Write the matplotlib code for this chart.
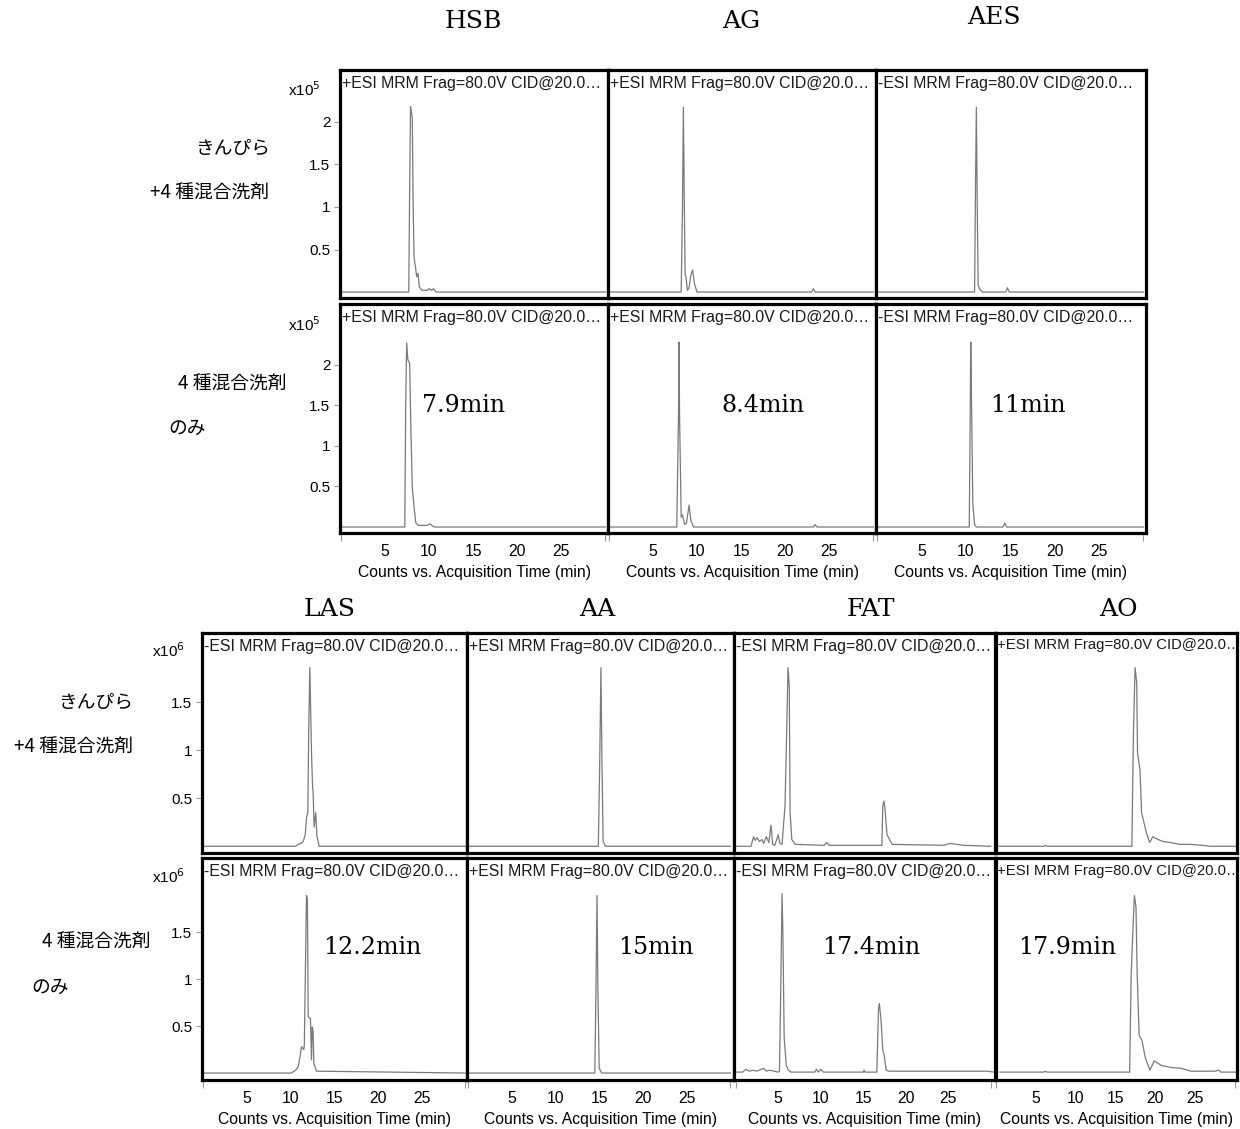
import matplotlib
matplotlib.use("Agg")
import matplotlib.pyplot as plt

# ---------------------------------------------------------------------------
# Data: MRM chromatograms (retention time in min, counts in units of the
# row multiplier). Row "a" = きんぴら + 4種混合洗剤, row "b" = 4種混合洗剤のみ.
# ---------------------------------------------------------------------------
top_compounds = ["HSB", "AG", "AES"]
top_polarity = ["+", "+", "-"]
top_rt_labels = ["7.9min", "8.4min", "11min"]

bottom_compounds = ["LAS", "AA", "FAT", "AO"]
bottom_polarity = ["-", "+", "-", "+"]
bottom_rt_labels = ["12.2min", "15min", "17.4min", "17.9min"]

top_yticks = [0.5, 1, 1.5, 2]
top_ytick_labels = ["0.5", "1", "1.5", "2"]
bottom_yticks = [0.5, 1, 1.5]
bottom_ytick_labels = ["0.5", "1", "1.5"]
xticks = [5, 10, 15, 20, 25]
xtick_labels = ["5", "10", "15", "20", "25"]

# HSB (x10^5)
hsb_a_t = [0, 7.7, 7.8, 7.9, 8.1, 8.2, 8.3, 8.45, 8.6, 8.75, 8.9, 9.2, 9.8, 10.0, 10.3, 10.5, 10.8, 30]
hsb_a_y = [0, 0, 1.2, 2.18, 2.05, 1.0, 0.41, 0.3, 0.18, 0.22, 0.06, 0.02, 0.02, 0.04, 0.02, 0.04, 0.0, 0]
hsb_b_t = [0, 7.25, 7.35, 7.46, 7.6, 7.8, 7.95, 8.1, 8.3, 8.5, 8.8, 9.8, 10.1, 10.3, 10.6, 30]
hsb_b_y = [0, 0, 1.5, 2.27, 2.06, 2.02, 1.16, 0.49, 0.25, 0.05, 0.02, 0.02, 0.04, 0.02, 0.0, 0]

# AG (x10^5)
ag_a_t = [0, 8.2, 8.35, 8.45, 8.55, 8.65, 8.75, 8.9, 9.1, 9.3, 9.5, 9.7, 10.0, 23.0, 23.2, 23.4, 30]
ag_a_y = [0, 0, 1.0, 2.17, 1.1, 0.2, 0.18, 0.02, 0.05, 0.2, 0.26, 0.1, 0.0, 0, 0.04, 0, 0]
ag_b_t = [0, 7.7, 7.9, 7.95, 8.02, 8.2, 8.35, 8.6, 8.8, 9.1, 9.3, 9.6, 23.2, 23.4, 23.6, 30]
ag_b_y = [0, 0, 1.4, 2.28, 1.35, 0.12, 0.15, 0.03, 0.05, 0.27, 0.08, 0.0, 0, 0.03, 0, 0]

# AES (x10^5)
aes_a_t = [0, 11.0, 11.1, 11.2, 11.3, 11.4, 11.6, 11.9, 14.5, 14.7, 14.9, 30]
aes_a_y = [0, 0, 1.2, 2.17, 1.0, 0.08, 0.03, 0.0, 0, 0.05, 0, 0]
aes_b_t = [0, 10.4, 10.5, 10.57, 10.65, 10.8, 11.0, 11.2, 14.2, 14.4, 14.6, 30]
aes_b_y = [0, 0, 1.3, 2.28, 1.6, 0.3, 0.03, 0.0, 0, 0.05, 0, 0]

# LAS (x10^6)
las_a_t = [0, 10.6, 10.9, 11.2, 11.47, 11.7, 11.85, 12.0, 12.1, 12.23, 12.42, 12.55, 12.6, 12.72, 12.9, 13.05, 13.3, 30]
las_a_y = [0, 0, 0.02, 0.03, 0.05, 0.12, 0.3, 0.35, 1.2, 1.86, 0.97, 0.6, 0.58, 0.2, 0.35, 0.1, 0.0, 0]
las_b_t = [0, 10.1, 10.6, 10.9, 11.1, 11.28, 11.54, 11.6, 11.8, 11.85, 11.95, 12.04, 12.3, 12.42, 12.5, 12.6, 12.69, 13.0, 30]
las_b_y = [0, 0, 0.03, 0.07, 0.17, 0.28, 0.25, 0.3, 1.6, 1.89, 1.85, 0.6, 0.58, 0.14, 0.49, 0.45, 0.1, 0.02, 0]

# AA (x10^6)
aa_a_t = [0, 14.9, 15.05, 15.2, 15.3, 15.45, 15.7, 30]
aa_a_y = [0, 0, 0.8, 1.86, 1.0, 0.05, 0.0, 0]
aa_b_t = [0, 14.5, 14.62, 14.75, 14.85, 15.0, 15.3, 30]
aa_b_y = [0, 0, 0.8, 1.89, 0.9, 0.05, 0.0, 0]

# FAT (x10^6)
fat_a_t = [0, 1.8, 2.1, 2.3, 2.5, 2.8, 3.1, 3.3, 3.6, 3.9, 4.15, 4.35, 4.6, 5.0, 5.2, 5.45, 5.8, 6.0,
           6.15, 6.3, 6.4, 6.6, 7.0, 10.4, 10.7, 11.0, 17.2, 17.3, 17.45, 17.6, 17.8, 18.1, 18.4,
           24.5, 25.2, 26.0, 26.8, 30]
fat_a_y = [0, 0, 0.1, 0.06, 0.09, 0.05, 0.07, 0.03, 0.1, 0.04, 0.22, 0.02, 0.01, 0.12, 0.03, 0.02, 0.42, 1.2,
           1.86, 1.67, 0.35, 0.07, 0.02, 0.01, 0.04, 0.01, 0.01, 0.42, 0.47, 0.35, 0.12, 0.07, 0.02,
           0.01, 0.03, 0.02, 0.01, 0.0]
fat_b_t = [0, 0.8, 1.2, 1.6, 2.0, 2.5, 3.0, 3.3, 3.6, 4.0, 4.5, 5.0, 5.15, 5.3, 5.45, 5.55, 5.7, 5.95,
           6.2, 6.5, 9.3, 9.5, 9.7, 10.0, 10.3, 15.0, 15.1, 15.2, 16.6, 16.8, 16.9, 17.1, 17.3, 17.45,
           17.7, 18.0, 20.0, 22.0, 24.0, 26.0, 28.0, 29.5, 30.5]
fat_b_y = [0.01, 0.01, 0.04, 0.02, 0.03, 0.02, 0.04, 0.05, 0.02, 0.03, 0.02, 0.01, 0.02, 0.9, 1.91, 1.5, 0.38, 0.08,
           0.03, 0.01, 0.01, 0.04, 0.01, 0.04, 0.01, 0.01, 0.03, 0.01, 0.01, 0.69, 0.74, 0.56, 0.24, 0.2,
           0.03, 0.02, 0.02, 0.02, 0.02, 0.02, 0.02, 0.02, 0.01]

# AO (x10^6)
ao_a_t = [0.5, 6.4, 6.6, 6.8, 17.3, 17.5, 17.7, 17.9, 18.0, 18.3, 18.5, 18.7, 19.1, 19.5, 19.9, 20.3,
          21.1, 22.0, 23.2, 24.5, 26.0, 27.0, 30.3]
ao_a_y = [0.0, 0.0, 0.01, 0.0, 0.0, 1.21, 1.86, 1.7, 0.97, 0.8, 0.35, 0.28, 0.14, 0.04, 0.1, 0.08,
          0.05, 0.04, 0.02, 0.02, 0.01, 0.0, 0.0]
ao_b_t = [0.5, 6.0, 6.2, 6.4, 16.8, 17.0, 17.2, 17.4, 17.6, 17.75, 18.0, 18.35, 18.75, 19.35, 19.9, 20.8,
          22.0, 23.3, 24.5, 27.5, 28.0, 28.3, 30.3]
ao_b_y = [0.01, 0.01, 0.02, 0.01, 0.01, 1.06, 1.49, 1.89, 1.77, 1.06, 0.4, 0.35, 0.17, 0.03, 0.13, 0.08,
          0.06, 0.05, 0.02, 0.02, 0.03, 0.01, 0.01]

top_traces = [((hsb_a_t, hsb_a_y), (hsb_b_t, hsb_b_y)),
              ((ag_a_t, ag_a_y), (ag_b_t, ag_b_y)),
              ((aes_a_t, aes_a_y), (aes_b_t, aes_b_y))]
bottom_traces = [((las_a_t, las_a_y), (las_b_t, las_b_y)),
                 ((aa_a_t, aa_a_y), (aa_b_t, aa_b_y)),
                 ((fat_a_t, fat_a_y), (fat_b_t, fat_b_y)),
                 ((ao_a_t, ao_a_y), (ao_b_t, ao_b_y))]

# ---------------------------------------------------------------------------
W, H = 1240, 1129
fig = plt.figure(figsize=(W / 100, H / 100), dpi=100)
fig.patch.set_facecolor("white")

SANS = ["Liberation Sans", "DejaVu Sans"]
SERIF = ["DejaVu Serif"]
CJK = ["Noto Sans CJK JP", "DejaVu Sans"]
TRACE = "#7a7a7a"


def rect(x0, y0, x1, y1):
    return [x0 / W, 1 - y1 / H, (x1 - x0) / W, (y1 - y0) / H]


def ftext(x, y, s, **kw):
    fig.text(x / W, 1 - y / H, s, **kw)


def panel(box, xlim, ylim, trace, polarity, left, bottom, yticks, ylabels):
    ax = fig.add_axes(rect(*box))
    ax.plot(trace[0], trace[1], color=TRACE, lw=0.9)
    ax.set_xlim(*xlim)
    ax.set_ylim(*ylim)
    for s in ax.spines.values():
        s.set_linewidth(2.3)
        s.set_color("black")
    # header size follows the panel width so it always fits inside the frame
    width_px = box[2] - box[0]
    header_fs = min(11.4, 11.4 * (width_px - 6) / 250.0)
    ax.text(0.006, 0.975, f"{polarity}ESI MRM Frag=80.0V CID@20.0…", transform=ax.transAxes,
            ha="left", va="top", fontsize=header_fs, family=SANS, color="#1a1a1a")
    if left:
        ax.set_yticks(yticks)
        ax.set_yticklabels(ylabels, family=SANS, fontsize=11)
        ax.tick_params(axis="y", length=4, width=0.8, color="#999999", pad=3)
    else:
        ax.set_yticks([])
    if bottom:
        ax.set_xticks(xticks)
        ax.set_xticklabels(xtick_labels, family=SANS, fontsize=11.3)
        ax.set_xticks([0, 30], minor=True)
        ax.tick_params(axis="x", which="major", length=0, pad=8)
        ax.tick_params(axis="x", which="minor", length=6, width=0.8, color="#999999")
        ax.set_xlabel("Counts vs. Acquisition Time (min)", family=SANS, fontsize=11.3, labelpad=4)
    else:
        ax.set_xticks([])
    return ax


# --- upper block -----------------------------------------------------------
top_cols = [(340, 608), (608, 876), (876, 1146)]
top_rows = [(70, 298), (304, 533)]
top_ylims = [(-0.07, 2.61), (-0.074, 2.75)]
top_xlims = [(-0.1, 30.3), (-0.1, 30.3), (-0.1, 30.3)]

for c, (x0, x1) in enumerate(top_cols):
    for r, (y0, y1) in enumerate(top_rows):
        panel((x0, y0, x1, y1), top_xlims[c], top_ylims[r], top_traces[c][r],
              top_polarity[c], c == 0, r == 1, top_yticks, top_ytick_labels)

for name, xc, yc in zip(top_compounds, [473, 741, 994], [22, 22, 18]):
    ftext(xc, yc, name, ha="center", va="center", fontsize=18, family=SERIF)
for lab, xc in zip(top_rt_labels, [464, 763, 1028]):
    ftext(xc, 405, lab, ha="center", va="center", fontsize=17, family=SERIF)
for yc in [90, 325]:
    ftext(304, yc, r"x10$^{5}$", ha="center", va="center", fontsize=11, family=SANS)

ftext(233, 148, "きんぴら", ha="center", va="center", fontsize=13.5, family=CJK)
ftext(209, 193, "+4 種混合洗剤", ha="center", va="center", fontsize=13.5, family=CJK)
ftext(232, 384, "4 種混合洗剤", ha="center", va="center", fontsize=13.5, family=CJK)
ftext(187, 428, "のみ", ha="center", va="center", fontsize=13.5, family=CJK)

# --- lower block -----------------------------------------------------------
bot_cols = [(202, 467), (467, 734), (734, 995), (996, 1237)]
bot_rows = [(633, 853), (858, 1080)]
bot_ylims = [(-0.07, 2.22), (-0.074, 2.29)]
bot_xlims = [(-0.1, 30.2), (-0.1, 30.4), (-0.2, 30.5), (0.5, 30.3)]

for c, (x0, x1) in enumerate(bot_cols):
    for r, (y0, y1) in enumerate(bot_rows):
        panel((x0, y0, x1, y1), bot_xlims[c], bot_ylims[r], bottom_traces[c][r],
              bottom_polarity[c], c == 0, r == 1, bottom_yticks, bottom_ytick_labels)

for name, xc in zip(bottom_compounds, [330, 597, 871, 1118]):
    ftext(xc, 609, name, ha="center", va="center", fontsize=18, family=SERIF)
for lab, xc in zip(bottom_rt_labels, [372, 656, 871, 1067]):
    ftext(xc, 948, lab, ha="center", va="center", fontsize=17, family=SERIF)
for yc in [651, 877]:
    ftext(168, yc, r"x10$^{6}$", ha="center", va="center", fontsize=11, family=SANS)

ftext(96, 702, "きんぴら", ha="center", va="center", fontsize=13.5, family=CJK)
ftext(73, 747, "+4 種混合洗剤", ha="center", va="center", fontsize=13.5, family=CJK)
ftext(96, 942, "4 種混合洗剤", ha="center", va="center", fontsize=13.5, family=CJK)
ftext(50, 987, "のみ", ha="center", va="center", fontsize=13.5, family=CJK)

fig.savefig("out.png", dpi=100, facecolor="white")
